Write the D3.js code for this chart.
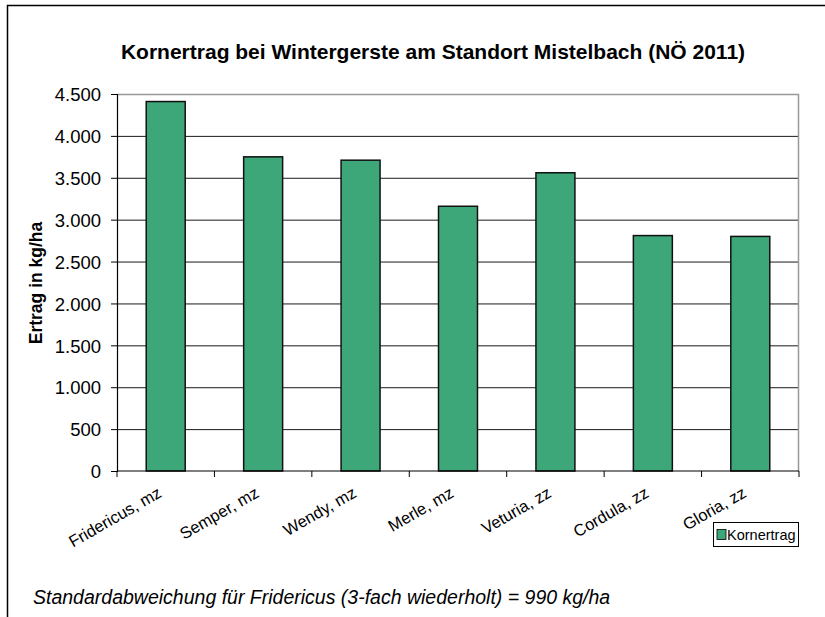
<html>
<head>
<script src="https://d3js.org/d3.v7.min.js"></script>
<style>
  body { margin: 0; background: #fff; }
  text { font-family: Arial, "Liberation Sans", sans-serif; fill: #000; }
  .grid line { stroke: #1a1a1a; stroke-width: 1; }
  .grid .domain { stroke: none; }
</style>
</head>
<body>
<script>
const sorten = ['Fridericus, mz', 'Semper, mz', 'Wendy, mz', 'Merle, mz', 'Veturia, zz', 'Cordula, zz', 'Gloria, zz'];
const ertrag = [4410, 3750, 3710, 3160, 3560, 2810, 2800];
const yTicks = [0, 500, 1000, 1500, 2000, 2500, 3000, 3500, 4000, 4500];

const width = 825, height = 617;
const margins = {top: 94, right: 26, bottom: 146, left: 117};
const chartWidth = width - margins.left - margins.right;
const chartHeight = height - margins.top - margins.bottom;

let svg = d3.select('body').append('svg')
  .attr('width', width).attr('height', height);

// outer frame (runs off right and bottom)
svg.append('path')
  .attr('d', 'M7.5,' + height + ' V5.5 H' + width)
  .attr('fill', 'none').attr('stroke', '#000').attr('stroke-width', 1.5);

svg.append('text')
  .attr('x', 433).attr('y', 59)
  .attr('text-anchor', 'middle')
  .style('font-size', '21px').style('font-weight', 'bold')
  .text('Kornertrag bei Wintergerste am Standort Mistelbach (NÖ 2011)');

let chart = svg.append('g')
  .attr('transform', `translate(${margins.left},${margins.top})`);

let xScale = d3.scaleBand().domain(sorten).range([0, chartWidth]).paddingInner(0.6).paddingOuter(0.3);
let yScale = d3.scaleLinear().domain([0, 4500]).range([chartHeight, 0]);

// gridlines
chart.append('g').attr('class', 'grid')
  .call(d3.axisLeft(yScale).tickValues(yTicks.slice(1, -1)).tickFormat('').tickSize(-chartWidth));

// plot border top/right
chart.append('path')
  .attr('d', `M0,0.5 H${chartWidth - 0.5} V${chartHeight}`)
  .attr('fill', 'none').attr('stroke', '#999').attr('stroke-width', 1.5);

// bars
chart.selectAll('rect.bar').data(sorten).enter().append('rect')
  .attr('class', 'bar')
  .attr('x', d => xScale(d))
  .attr('width', xScale.bandwidth())
  .attr('y', (d, i) => yScale(ertrag[i]))
  .attr('height', (d, i) => chartHeight - yScale(ertrag[i]))
  .attr('fill', '#3ea77a')
  .attr('stroke', '#111').attr('stroke-width', 1.5);

// y axis
let yAxis = chart.append('g')
  .call(d3.axisLeft(yScale).tickValues(yTicks).tickSize(6).tickPadding(10)
    .tickFormat(d => d3.format(',')(d).replace(/,/g, '.')));
yAxis.select('.domain').attr('stroke', '#000').attr('stroke-width', 1.2);
yAxis.selectAll('.tick line').attr('stroke', '#000');
yAxis.selectAll('.tick text').style('font-size', '18.5px').attr('fill', '#000').attr('dy', '0.36em');

// x axis: line + ticks at band boundaries
let xAxis = chart.append('g').attr('transform', `translate(0,${chartHeight})`);
xAxis.append('line').attr('x1', 0).attr('x2', chartWidth)
  .attr('stroke', '#000').attr('stroke-width', 1.2);
const step = xScale.step();
xAxis.selectAll('line.tk').data(d3.range(sorten.length + 1)).enter().append('line')
  .attr('class', 'tk')
  .attr('x1', i => i * step).attr('x2', i => i * step)
  .attr('y1', 0).attr('y2', 6).attr('stroke', '#000');

xAxis.selectAll('text.lbl').data(sorten).enter().append('text')
  .attr('class', 'lbl')
  .attr('text-anchor', 'end')
  .attr('transform', d => `translate(${xScale(d) + xScale.bandwidth() / 2 - 3},${25}) rotate(-30)`)
  .style('font-size', '16.5px')
  .text(d => d);

// y title
svg.append('text')
  .attr('transform', 'translate(42,283) rotate(-90)')
  .attr('text-anchor', 'middle')
  .style('font-size', '17.5px').style('font-weight', 'bold')
  .text('Ertrag in kg/ha');

// legend
let legend = svg.append('g').attr('transform', 'translate(713,522)');
legend.append('rect').attr('x', 0.5).attr('y', 0.5).attr('width', 85).attr('height', 24)
  .attr('fill', '#fff').attr('stroke', '#000');
legend.append('rect').attr('x', 4).attr('y', 7.5).attr('width', 9).attr('height', 10)
  .attr('fill', '#3ea77a').attr('stroke', '#000').attr('stroke-width', 0.8);
legend.append('text').attr('x', 14).attr('y', 18)
  .style('font-size', '14.5px').text('Kornertrag');

// footnote
svg.append('text')
  .attr('x', 33).attr('y', 604)
  .style('font-size', '19.5px').style('font-style', 'italic')
  .text('Standardabweichung für Fridericus (3-fach wiederholt) = 990 kg/ha');
</script>
</body>
</html>
